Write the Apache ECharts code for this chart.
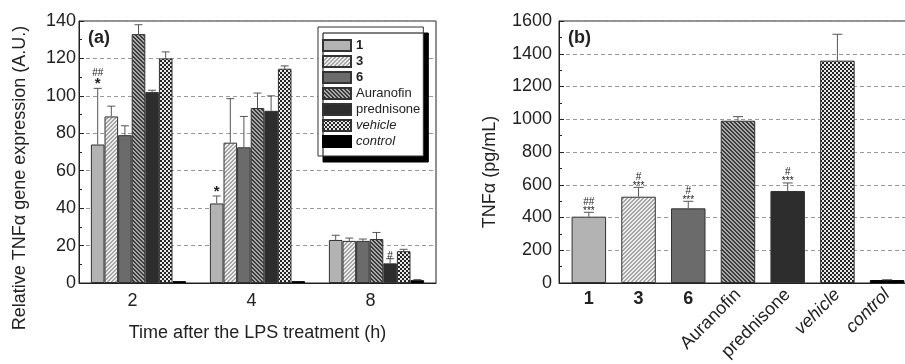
<!DOCTYPE html>
<html>
<head>
<meta charset="utf-8">
<script src="https://cdn.jsdelivr.net/npm/echarts@6/dist/echarts.min.js"></script>
<style>
  html, body { margin: 0; padding: 0; background: #fff; }
  #chart { width: 905px; height: 364px; }
</style>
</head>
<body>
<div id="chart"></div>
<script>
// (a) relative TNFa gene expression, per time point
var timePoints = ['2', '4', '8'];
var groupNames = ['1', '3', '6', 'Auranofin', 'prednisone', 'vehicle', 'control'];

var gene1 = [74, 42.5, 23];
var gene3 = [89, 75, 22.5];
var gene6 = [79, 72.5, 22.5];
var geneAuranofin = [133, 93.5, 23.5];
var genePrednisone = [102, 92, 10.5];
var geneVehicle = [120, 114.5, 17];
var geneControl = [1, 1, 1.5];

var errGene1 = [30, 4, 2.5];
var errGene3 = [5.5, 23.5, 1.5];
var errGene6 = [5, 16.5, 1];
var errGeneAuranofin = [5, 8, 3.5];
var errGenePrednisone = [1, 8, 2.5];
var errGeneVehicle = [3.5, 1.5, 1];
var errGeneControl = [0, 0, 0.3];

// significance marks in (a): [time index, group index, hash, star]
var geneMarks = [[0, 0, '##', '*'], [1, 0, '', '*'], [2, 4, '#', '']];

// (b) TNFa protein level
var tnfMean = [405, 527, 456, 991, 562, 1358, 18];
var tnfErr = [27, 57, 43, 25, 49, 161, 2];
var tnfHash = ['##', '#', '#', '', '#', '', ''];
var tnfStar = ['***', '***', '***', '', '***', '', ''];

var geneMeans = [gene1, gene3, gene6, geneAuranofin, genePrednisone, geneVehicle, geneControl];
var geneErrs = [errGene1, errGene3, errGene6, errGeneAuranofin, errGenePrednisone, errGeneVehicle, errGeneControl];

var FONT = '"Liberation Sans", Arial, sans-serif';
var INK = '#222';

// small repeating fill patterns
function pattern(kind, a, b) {
  var c = document.createElement('canvas');
  c.width = c.height = 4;
  var ctx = c.getContext('2d');
  for (var y = 0; y < 4; y++) {
    for (var x = 0; x < 4; x++) {
      var on;
      if (kind === '/') on = ((x + y) % 4) < 2;
      else if (kind === '\\') on = (((x - y) % 4) + 4) % 4 < 2;
      else on = ((Math.floor(x / 2) + Math.floor(y / 2)) % 2) === 0;
      ctx.fillStyle = on ? a : b;
      ctx.fillRect(x, y, 1, 1);
    }
  }
  return { image: c, repeat: 'repeat' };
}

var fills = [
  '#b3b3b3',
  pattern('/', '#a6a6a6', '#ededed'),
  '#6b6b6b',
  pattern('\\', '#3a3a3a', '#a9a9a9'),
  '#2d2d2d',
  pattern('#', '#262626', '#e8e8e8'),
  '#000000'
];

var chart = echarts.init(document.getElementById('chart'));

function markText(hash, star) {
  var parts = [];
  if (hash) parts.push('{h|' + hash + '}');
  if (star) parts.push('{s|' + star + '}');
  return parts.join('\n');
}

// error bar rows for (a)
var geneErrRows = [];
geneMeans.forEach(function (arr, i) {
  arr.forEach(function (v, t) {
    geneErrRows.push([t, i, v, geneErrs[i][t]]);
  });
});
function geneMarkFor(t, i) {
  for (var k = 0; k < geneMarks.length; k++) {
    if (geneMarks[k][0] === t && geneMarks[k][1] === i) return geneMarks[k];
  }
  return null;
}

var barSeries = groupNames.map(function (name, i) {
  return {
    type: 'bar',
    name: name,
    xAxisIndex: 0,
    yAxisIndex: 0,
    barGap: '0%',
    barCategoryGap: '20%',
    itemStyle: { color: fills[i], borderColor: i === 6 ? '#000' : '#333', borderWidth: 1 },
    data: geneMeans[i]
  };
});

var axisLineStyle = { color: INK, width: 1 };
var gridLine = { lineStyle: { color: '#9a9a9a', type: [4, 3], width: 1 } };
var plainNum = function (v) { return String(v); };

var option = {
  animation: false,
  textStyle: { fontFamily: FONT, color: INK },
  grid: [
    { left: 79, right: 469, top: 21, bottom: 81, show: true, borderColor: INK, borderWidth: 1, outerBoundsMode: 'none' },
    { left: 559, right: -2, top: 21, bottom: 81, show: true, borderColor: INK, borderWidth: 1, outerBoundsMode: 'none' }
  ],
  legend: {
    data: [
      { name: '1', textStyle: { fontWeight: 'bold' } },
      { name: '3', textStyle: { fontWeight: 'bold' } },
      { name: '6', textStyle: { fontWeight: 'bold' } },
      { name: 'Auranofin' },
      { name: 'prednisone' },
      { name: 'vehicle', textStyle: { fontStyle: 'italic' } },
      { name: 'control', textStyle: { fontStyle: 'italic' } }
    ],
    orient: 'vertical',
    left: 318,
    top: 27,
    icon: 'rect',
    itemWidth: 28,
    itemHeight: 11,
    itemGap: 3,
    padding: [12, 3, 8, 4],
    backgroundColor: '#fff',
    borderColor: '#333',
    borderWidth: 1,
    shadowColor: '#000',
    shadowBlur: 0,
    shadowOffsetX: 5,
    shadowOffsetY: 6,
    textStyle: { fontSize: 13, color: INK, fontFamily: FONT },
    selectedMode: false
  },
  xAxis: [
    {
      gridIndex: 0,
      type: 'category',
      data: timePoints,
      axisLine: { lineStyle: axisLineStyle },
      axisTick: { show: false },
      axisLabel: { fontSize: 18, color: INK, margin: 9, padding: [0, 12, 0, 0] },
      name: 'Time after the LPS treatment (h)',
      nameLocation: 'middle',
      nameGap: 41,
      nameTextStyle: { fontSize: 18, color: INK }
    },
    {
      gridIndex: 1,
      type: 'value',
      min: 0.4,
      max: 7.4,
      splitNumber: 7,
      position: 'bottom',
      splitLine: { show: false },
      axisTick: { show: false },
      axisLine: { lineStyle: axisLineStyle },
      axisLabel: {
        fontSize: 18,
        fontWeight: 'bold',
        color: INK,
        margin: 7,
        formatter: function (v) {
          var k = Math.round(v);
          if (Math.abs(v - k) > 1e-6 || k < 1 || k > 3) return '';
          return groupNames[k - 1];
        }
      }
    },
    {
      gridIndex: 1,
      type: 'value',
      min: 0.4,
      max: 7.4,
      splitNumber: 7,
      position: 'bottom',
      splitLine: { show: false },
      axisTick: { show: false },
      axisLine: { show: false },
      axisLabel: {
        fontSize: 18,
        color: INK,
        rotate: 45,
        margin: 9,
        rich: { it: { fontStyle: 'italic', fontSize: 18, color: INK } },
        formatter: function (v) {
          var k = Math.round(v);
          if (Math.abs(v - k) > 1e-6 || k < 4 || k > 7) return '';
          var n = groupNames[k - 1];
          return k >= 6 ? '{it|' + n + '}' : n;
        }
      }
    }
  ],
  yAxis: [
    {
      gridIndex: 0,
      type: 'value',
      min: 0,
      max: 140,
      interval: 20,
      axisLine: { show: true, lineStyle: axisLineStyle },
      axisTick: { show: true, inside: true, length: 5, lineStyle: axisLineStyle },
      minorTick: { show: true, splitNumber: 2, length: 3, lineStyle: axisLineStyle },
      splitLine: gridLine,
      axisLabel: { fontSize: 18, color: INK, margin: 3, formatter: plainNum }
    },
    {
      gridIndex: 1,
      type: 'value',
      min: 0,
      max: 1600,
      interval: 200,
      axisLine: { show: true, lineStyle: axisLineStyle },
      axisTick: { show: true, inside: true, length: 5, lineStyle: axisLineStyle },
      minorTick: { show: true, splitNumber: 2, length: 3, lineStyle: axisLineStyle },
      splitLine: gridLine,
      axisLabel: { fontSize: 18, color: INK, margin: 7, formatter: plainNum }
    }
  ],
  graphic: [
    { type: 'text', left: 88, top: 29, style: { text: '(a)', font: 'bold 18px ' + FONT, fill: INK } },
    { type: 'text', left: 568, top: 29, style: { text: '(b)', font: 'bold 18px ' + FONT, fill: INK } },
    {
      type: 'text', x: 20, y: 178, rotation: Math.PI / 2,
      style: { text: 'Relative TNFα gene expression (A.U.)', font: '18px ' + FONT, fill: INK, align: 'center', verticalAlign: 'middle' }
    },
    {
      type: 'text', x: 490, y: 172, rotation: Math.PI / 2,
      style: { text: 'TNFα (pg/mL)', font: '18px ' + FONT, fill: INK, align: 'center', verticalAlign: 'middle' }
    }
  ],
  series: barSeries.concat([
    {
      type: 'custom',
      name: 'gene error',
      xAxisIndex: 0,
      yAxisIndex: 0,
      z: 5,
      silent: true,
      encode: { x: 0, y: 2 },
      data: geneErrRows,
      renderItem: function (params, api) {
        var t = api.value(0), i = api.value(1), m = api.value(2), e = api.value(3);
        var band = api.size([1, 0])[0];
        var bw = band * 0.8 / 7;
        var cx = api.coord([t, 0])[0] + (i - 3) * bw;
        var y0 = api.coord([t, m])[1];
        var y1 = api.coord([t, m + e])[1];
        var kids = [];
        if (e > 0) {
          kids.push({ type: 'line', shape: { x1: cx, y1: y0, x2: cx, y2: y1 }, style: { stroke: '#555', lineWidth: 1 } });
          kids.push({ type: 'line', shape: { x1: cx - 4, y1: y1, x2: cx + 4, y2: y1 }, style: { stroke: '#555', lineWidth: 1 } });
        }
        var mk = geneMarkFor(t, i);
        if (mk) {
          kids.push({
            type: 'text',
            style: {
              text: markText(mk[2], mk[3]),
              x: cx, y: y1 + 2,
              align: 'center', verticalAlign: 'bottom',
              fill: INK,
              rich: {
                h: { fontSize: 10, lineHeight: 9, fill: INK, fontFamily: FONT },
                s: { fontSize: 15, lineHeight: 13, fill: INK, fontFamily: FONT, fontWeight: 'bold' }
              }
            }
          });
        }
        return { type: 'group', children: kids };
      }
    },
    {
      type: 'bar',
      name: 'TNFa',
      xAxisIndex: 1,
      yAxisIndex: 1,
      barWidth: 34.5,
      data: tnfMean.map(function (v, k) {
        return {
          value: [k + 1, v],
          itemStyle: { color: fills[k], borderColor: k === 6 ? '#000' : '#333', borderWidth: 1 }
        };
      })
    },
    {
      type: 'custom',
      name: 'tnf error',
      xAxisIndex: 1,
      yAxisIndex: 1,
      z: 5,
      silent: true,
      encode: { x: 0, y: 1 },
      data: tnfMean.map(function (v, k) { return [k + 1, v, tnfErr[k]]; }),
      renderItem: function (params, api) {
        var x = api.value(0), m = api.value(1), e = api.value(2);
        var k = params.dataIndex;
        var cx = api.coord([x, m])[0];
        var y0 = api.coord([x, m])[1];
        var y1 = api.coord([x, m + e])[1];
        var kids = [
          { type: 'line', shape: { x1: cx, y1: y0, x2: cx, y2: y1 }, style: { stroke: '#555', lineWidth: 1 } },
          { type: 'line', shape: { x1: cx - 5, y1: y1, x2: cx + 5, y2: y1 }, style: { stroke: '#555', lineWidth: 1 } }
        ];
        var txt = markText(tnfHash[k], tnfStar[k]);
        if (txt) {
          kids.push({
            type: 'text',
            style: {
              text: txt,
              x: cx, y: y1 + 3,
              align: 'center', verticalAlign: 'bottom',
              fill: INK,
              rich: {
                h: { fontSize: 10, lineHeight: 9, fill: INK, fontFamily: FONT },
                s: { fontSize: 10, lineHeight: 9, fill: INK, fontFamily: FONT }
              }
            }
          });
        }
        return { type: 'group', children: kids };
      }
    }
  ])
};

chart.setOption(option);
</script>
</body>
</html>
